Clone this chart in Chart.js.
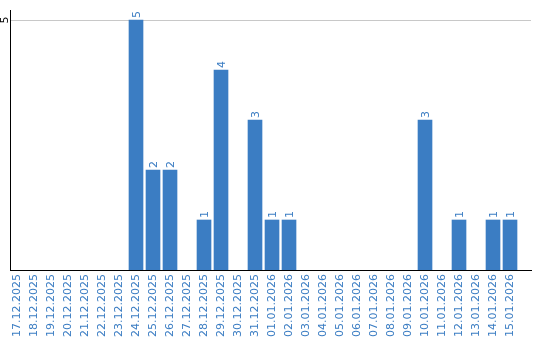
<!DOCTYPE html>
<html>
<head>
<meta charset="utf-8">
<script src="https://cdn.jsdelivr.net/npm/chart.js@4/dist/chart.umd.min.js"></script>
<style>
  html, body { margin: 0; padding: 0; background: #fff; }
  #wrap { width: 540px; height: 340px; }
</style>
</head>
<body>
<div id="wrap"><canvas id="chart" width="540" height="340"></canvas></div>
<script>
// Tage
const dates = [
  '17.12.2025', '18.12.2025', '19.12.2025', '20.12.2025', '21.12.2025',
  '22.12.2025', '23.12.2025', '24.12.2025', '25.12.2025', '26.12.2025',
  '27.12.2025', '28.12.2025', '29.12.2025', '30.12.2025', '31.12.2025',
  '01.01.2026', '02.01.2026', '03.01.2026', '04.01.2026', '05.01.2026',
  '06.01.2026', '07.01.2026', '08.01.2026', '09.01.2026', '10.01.2026',
  '11.01.2026', '12.01.2026', '13.01.2026', '14.01.2026', '15.01.2026'
];
// Anzahl pro Tag
const counts = [0, 0, 0, 0, 0, 0, 0, 5, 2, 2, 0, 1, 4, 0, 3, 1, 1, 0, 0, 0, 0, 0, 0, 0, 3, 0, 1, 0, 1, 1];
const yTicks = [5];

const blue = '#3b7dc3';
const font = { family: 'DejaVu Sans', size: 11 };

// Werte über den Balken (gedreht)
const valueLabels = {
  id: 'valueLabels',
  afterDatasetsDraw(chart) {
    const ctx = chart.ctx;
    const meta = chart.getDatasetMeta(0);
    ctx.save();
    ctx.font = font.size + 'px ' + font.family;
    ctx.fillStyle = blue;
    meta.data.forEach((bar, i) => {
      const v = counts[i];
      if (!v) return;
      ctx.save();
      ctx.translate(bar.x + 1, bar.y - 2);
      ctx.rotate(-Math.PI / 2);
      ctx.textAlign = 'left';
      ctx.textBaseline = 'middle';
      ctx.fillText(String(v), 0, 0);
      ctx.restore();
    });
    // y-Achsenbeschriftung
    const ys = chart.scales.y;
    ctx.fillStyle = '#000';
    yTicks.forEach(t => {
      ctx.save();
      ctx.translate(5.5, ys.getPixelForValue(t));
      ctx.rotate(-Math.PI / 2);
      ctx.textAlign = 'center';
      ctx.textBaseline = 'middle';
      ctx.fillText(String(t), 0, 0);
      ctx.restore();
    });
    ctx.restore();
  }
};

const ctx = document.getElementById('chart').getContext('2d');
const chart = new Chart(ctx, {
  type: 'bar',
  data: {
    datasets: [{
      data: counts.map((v, i) => ({ x: i, y: v || null })),
      backgroundColor: blue,
      barThickness: 14,
      borderWidth: 0
    }]
  },
  options: {
    responsive: false,
    animation: false,
    layout: { padding: { top: 10, right: 9, left: 0, bottom: 0 } },
    plugins: {
      legend: { display: false },
      tooltip: { enabled: false }
    },
    scales: {
      x: {
        type: 'linear',
        offset: false,
        min: -0.412,
        max: 30.235,
        afterBuildTicks: s => { s.ticks = dates.map((_, i) => ({ value: i })); },
        afterFit: s => { s.height = 70; },
        grid: { display: false, drawTicks: false, offset: false },
        border: { display: true, color: '#000', width: 1 },
        ticks: {
          autoSkip: false,
          minRotation: 90,
          maxRotation: 90,
          padding: 4,
          color: blue,
          font: font,
          callback: v => dates[v]
        }
      },
      y: {
        min: 0,
        max: 5.2,
        afterBuildTicks: s => { s.ticks = yTicks.map(v => ({ value: v })); },
        afterFit: s => { s.width = 10; },
        grid: { color: '#c8c8c8', drawTicks: false },
        border: { display: true, color: '#000', width: 1 },
        ticks: { display: false }
      }
    }
  },
  plugins: [valueLabels]
});
</script>
</body>
</html>
